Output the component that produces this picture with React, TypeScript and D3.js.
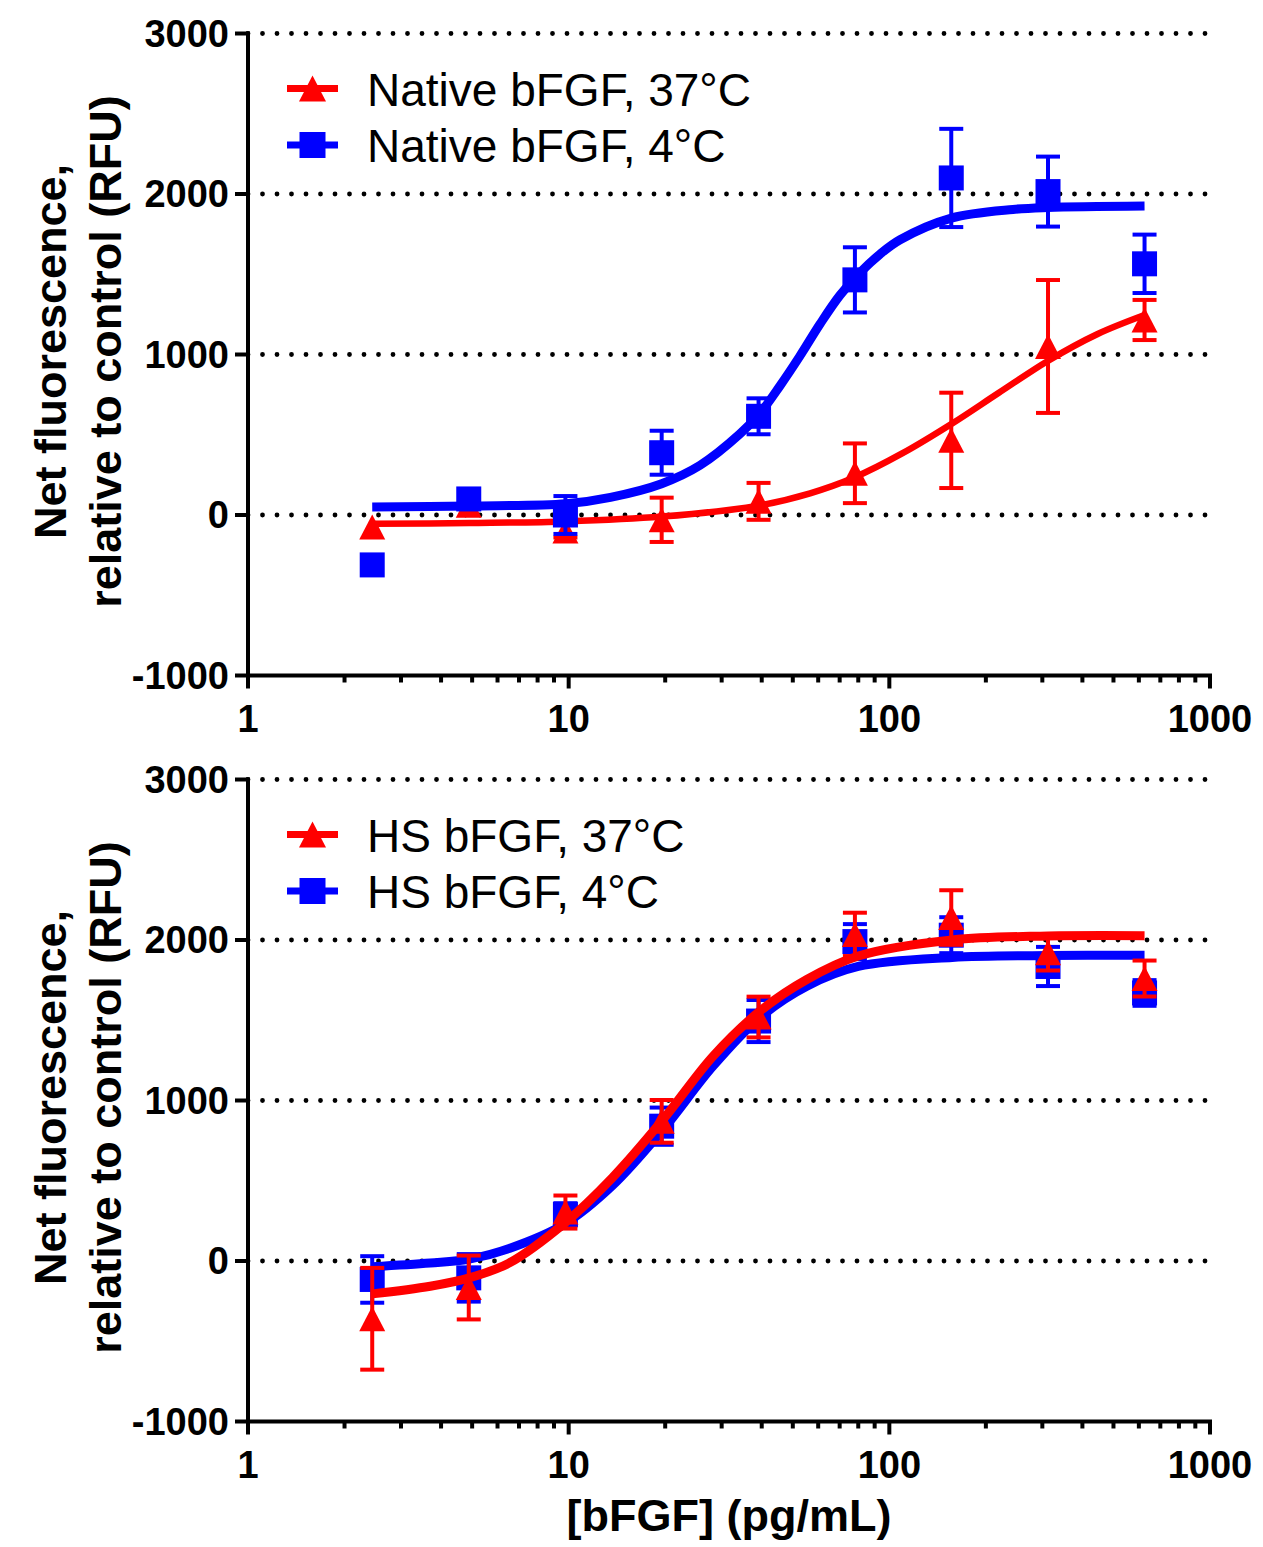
import React from "react";
import * as d3 from "d3";

// ---------- data ----------
const concentrations = [2.44, 4.88, 9.77, 19.5, 39.1, 78.1, 156, 312.5, 625];

// Top panel: Native bFGF
const nativeWarmMean = [-75, 60, -100, -30, 85, 260, 465, 1050, 1215];
const nativeWarmErr = [0, 0, 40, 138, 115, 186, 297, 414, 125];
const nativeColdMean = [-311, 100, 0, 388, 615, 1465, 2100, 2015, 1565];
const nativeColdErr = [0, 0, 118, 137, 112, 203, 306, 218, 182];

const nativeWarmFitX = [2.44, 4.9, 9.8, 19.5, 39, 56.6, 78, 110, 157, 219, 312, 443, 625];
const nativeWarmFitY = [-55, -50, -40, -10, 58, 135, 235, 385, 570, 760, 960, 1125, 1246];
const nativeColdFitX = [2.44, 4.9, 9.8, 13.5, 19.5, 25.7, 34.2, 39.5, 45.6, 52.6, 60.8, 70.2, 81, 93.5, 108, 156, 243, 312, 625];
const nativeColdFitY = [50, 56, 70, 110, 195, 310, 505, 634, 805, 990, 1190, 1370, 1510, 1625, 1715, 1850, 1904, 1916, 1925];

// Bottom panel: HS bFGF
const hsWarmMean = [-360, -165, 305, 870, 1520, 2035, 2140, 1920, 1760];
const hsWarmErr = [317, 199, 103, 133, 127, 135, 170, 110, 112];
const hsColdMean = [-115, -105, 290, 840, 1495, 1990, 2030, 1835, 1670];
const hsColdErr = [145, 148, 70, 116, 131, 109, 112, 122, 80];

const hsFitX = [2.44, 3.7, 4.9, 6.56, 9.7, 13.7, 19.7, 28.2, 39.5, 55.3, 80, 157, 312, 625];
const hsWarmFitY = [-205, -157, -105, -10, 235, 520, 882, 1276, 1557, 1754, 1900, 2000, 2025, 2027];
const hsColdFitY = [-35, -12, 12, 80, 230, 470, 819, 1214, 1517, 1712, 1835, 1891, 1903, 1905];

const yTicks = [-1000, 0, 1000, 2000, 3000];
const gridValues = [0, 1000, 2000, 3000];
const xMajorTicks = [1, 10, 100, 1000];
const xTickLabels = ["1", "10", "100", "1000"];

const legendTop = ["Native bFGF, 37\u00B0C", "Native bFGF, 4\u00B0C"];
const legendBottom = ["HS bFGF, 37\u00B0C", "HS bFGF, 4\u00B0C"];
const yTitleLines = ["Net fluorescence,", "relative to control (RFU)"];
const xTitle = "[bFGF] (pg/mL)";

const RED = "#ff0000";
const BLUE = "#0000ff";
const FONT = "'Liberation Sans', Arial, Helvetica, sans-serif";

// ---------- helpers ----------
const x = d3.scaleLog().domain([1, 1000]).range([248, 1210]);
const xMinor: number[] = [];
for (const dec of [1, 10, 100]) for (let k = 2; k <= 9; k++) xMinor.push(dec * k);

type Series = {
  mean: number[];
  err: number[];
  fitX: number[];
  fitY: number[];
  color: string;
  shape: "triangle" | "square";
  width: number;
};

function Marker({ cx, cy, shape, color, size = 25 }: { cx: number; cy: number; shape: string; color: string; size?: number }) {
  if (shape === "square") {
    return <rect x={cx - size / 2} y={cy - size / 2} width={size} height={size} fill={color} />;
  }
  const h = size;
  const w = size + 1;
  const p = `${cx},${cy - h / 2} ${cx + w / 2},${cy + h / 2} ${cx - w / 2},${cy + h / 2}`;
  return <polygon points={p} fill={color} />;
}

function Panel({ top, series, legend }: { top: number; series: Series[]; legend: { label: string; s: Series }[] }) {
  const y = d3.scaleLinear().domain([-1000, 3000]).range([top + 642, top]);
  const axisY = y(-1000);
  const line = (s: Series) =>
    d3
      .line<number>()
      .x((_, i) => x(s.fitX[i]))
      .y((d) => y(d))
      .curve(d3.curveCatmullRom.alpha(0.5))(s.fitY) || "";

  return (
    <g>
      {/* grid */}
      {gridValues.map((v) => (
        <line
          key={"g" + v}
          x1={248}
          x2={1212}
          y1={y(v)}
          y2={y(v)}
          stroke="#000"
          strokeWidth={4.8}
          strokeLinecap="round"
          strokeDasharray="0 14.5"
        />
      ))}
      {/* y axis */}
      <line x1={248} x2={248} y1={y(3000) - 2} y2={axisY} stroke="#000" strokeWidth={4} />
      {yTicks.map((v) => (
        <g key={"yt" + v}>
          <line x1={235} x2={248} y1={y(v)} y2={y(v)} stroke="#000" strokeWidth={4} />
          <text x={229} y={y(v) + 13} textAnchor="end" fontFamily={FONT} fontWeight="bold" fontSize={38}>
            {v}
          </text>
        </g>
      ))}
      {/* x axis */}
      <line x1={246} x2={1212} y1={axisY} y2={axisY} stroke="#000" strokeWidth={4} />
      {xMajorTicks.map((v, i) => (
        <g key={"xt" + v}>
          <line x1={x(v)} x2={x(v)} y1={axisY} y2={axisY + 13} stroke="#000" strokeWidth={4} />
          <text x={x(v)} y={axisY + 56} textAnchor="middle" fontFamily={FONT} fontWeight="bold" fontSize={38}>
            {xTickLabels[i]}
          </text>
        </g>
      ))}
      {xMinor.map((v) => (
        <line key={"xm" + v} x1={x(v)} x2={x(v)} y1={axisY} y2={axisY + 7} stroke="#000" strokeWidth={4} />
      ))}
      {/* y title */}
      {yTitleLines.map((t, i) => (
        <text
          key={"yl" + i}
          transform={`translate(${i === 0 ? 66 : 121},${top + 318}) rotate(-90)`}
          textAnchor="middle"
          fontFamily={FONT}
          fontWeight="bold"
          fontSize={45}
        >
          {t}
        </text>
      ))}
      {/* series */}
      {series.map((s, si) => (
        <g key={"s" + si}>
          {s.mean.map((m, i) => {
            const e = s.err[i];
            if (!e) return null;
            const cx = x(concentrations[i]);
            return (
              <g key={"e" + i} stroke={s.color} strokeWidth={4}>
                <line x1={cx} x2={cx} y1={y(m + e)} y2={y(m - e)} />
                <line x1={cx - 12} x2={cx + 12} y1={y(m + e)} y2={y(m + e)} />
                <line x1={cx - 12} x2={cx + 12} y1={y(m - e)} y2={y(m - e)} />
              </g>
            );
          })}
          <path d={line(s)} fill="none" stroke={s.color} strokeWidth={s.width} />
          {s.mean.map((m, i) => (
            <Marker key={"m" + i} cx={x(concentrations[i])} cy={y(m)} shape={s.shape} color={s.color} />
          ))}
        </g>
      ))}
      {/* legend */}
      {legend.map((l, i) => {
        const ly = top + 55 + i * 56.5;
        return (
          <g key={"lg" + i}>
            <line x1={287} x2={338} y1={ly} y2={ly} stroke={l.s.color} strokeWidth={7} />
            <Marker cx={312.5} cy={ly} shape={l.s.shape} color={l.s.color} size={26} />
            <text x={367} y={ly + 17} fontFamily={FONT} fontSize={46}>
              {l.label}
            </text>
          </g>
        );
      })}
    </g>
  );
}

export default function App() {
  const nativeWarm: Series = { mean: nativeWarmMean, err: nativeWarmErr, fitX: nativeWarmFitX, fitY: nativeWarmFitY, color: RED, shape: "triangle", width: 6.5 };
  const nativeCold: Series = { mean: nativeColdMean, err: nativeColdErr, fitX: nativeColdFitX, fitY: nativeColdFitY, color: BLUE, shape: "square", width: 9 };
  const hsWarm: Series = { mean: hsWarmMean, err: hsWarmErr, fitX: hsFitX, fitY: hsWarmFitY, color: RED, shape: "triangle", width: 9 };
  const hsCold: Series = { mean: hsColdMean, err: hsColdErr, fitX: hsFitX, fitY: hsColdFitY, color: BLUE, shape: "square", width: 9 };

  return (
    <svg
      width={1263}
      height={1547}
      viewBox="0 0 1263 1547"
      style={{ position: "absolute", left: 0, top: 0, background: "#fff" }}
    >
      <rect width={1263} height={1547} fill="#fff" />
      <Panel
        top={33.5}
        series={[nativeWarm, nativeCold]}
        legend={[
          { label: legendTop[0], s: nativeWarm },
          { label: legendTop[1], s: nativeCold },
        ]}
      />
      <Panel
        top={779.5}
        series={[hsCold, hsWarm]}
        legend={[
          { label: legendBottom[0], s: hsWarm },
          { label: legendBottom[1], s: hsCold },
        ]}
      />
      <text x={729} y={1531} textAnchor="middle" fontFamily={FONT} fontWeight="bold" fontSize={45}>
        {xTitle}
      </text>
    </svg>
  );
}
